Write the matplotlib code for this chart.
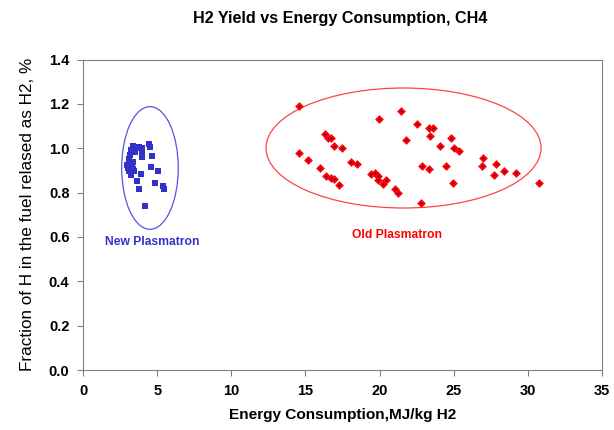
import matplotlib
matplotlib.use("Agg")
import matplotlib.pyplot as plt
from matplotlib.patches import Ellipse

plt.rcParams['font.family'] = ['Liberation Sans', 'DejaVu Sans']

# New Plasmatron (blue squares)
new_x = [3.38, 3.78, 3.96, 4.44, 4.50, 3.24, 3.60, 3.98, 3.98, 3.15, 4.64, 3.33,
         2.97, 3.29, 3.11, 3.42, 4.59, 5.04, 3.92, 3.60, 4.82, 5.38, 5.43, 3.78,
         4.19, 3.10, 3.20, 3.35, 3.50, 3.05]
new_y = [1.011, 1.005, 1.000, 1.019, 1.005, 0.992, 1.000, 0.977, 0.959, 0.969, 0.966, 0.939,
         0.924, 0.917, 0.897, 0.897, 0.914, 0.896, 0.882, 0.852, 0.842, 0.831, 0.815, 0.816,
         0.738, 0.950, 0.880, 0.905, 0.985, 0.910]

# Old Plasmatron (red diamonds)
old_x = [14.55, 14.55, 15.15, 15.95, 16.35, 16.50, 16.70, 16.95, 17.45, 16.40, 16.75, 16.90,
         17.25, 18.05, 18.45, 19.45, 19.70, 19.88, 19.92, 20.44, 20.26, 19.97, 21.05, 21.25,
         21.43, 21.81, 22.53, 22.80, 22.85, 23.35, 23.34, 23.63, 23.43, 24.09, 24.49, 24.82,
         25.03, 25.35, 24.98, 26.99, 26.90, 27.85, 27.75, 28.43, 29.24, 30.75]
old_y = [1.190, 0.980, 0.945, 0.910, 1.065, 1.045, 1.045, 1.010, 1.000, 0.875, 0.865, 0.860,
         0.835, 0.940, 0.930, 0.884, 0.888, 0.877, 0.856, 0.856, 0.840, 1.130, 0.815, 0.800,
         1.169, 1.036, 1.109, 0.753, 0.922, 0.905, 1.091, 1.091, 1.056, 1.011, 0.922, 1.045,
         1.000, 0.986, 0.845, 0.957, 0.918, 0.927, 0.879, 0.897, 0.887, 0.842]

xticks = [0, 5, 10, 15, 20, 25, 30, 35]
yticks = [0.0, 0.2, 0.4, 0.6, 0.8, 1.0, 1.2, 1.4]

fig = plt.figure(figsize=(6.14, 4.30), dpi=100)
ax = fig.add_axes([0.1357, 0.1395, 0.8443, 0.7221])

ax.scatter(new_x, new_y, marker='s', s=17, color='#3232c8', linewidths=0, zorder=3)
ax.scatter(old_x, old_y, marker='D', s=20, color='#ff0000', linewidths=0, zorder=3)
ax.scatter(old_x, old_y, marker='o', s=1.5, color='#000080', linewidths=0, zorder=4)

ax.add_patch(Ellipse((4.5, 0.911), 3.82, 0.553, fill=False, edgecolor='#5555dd', lw=0.9))
ax.add_patch(Ellipse((21.62, 1.001), 18.57, 0.541, fill=False, edgecolor='#ff4444', lw=0.9))

ax.text(4.64, 0.577, 'New Plasmatron', color='#3232c8', fontsize=8.7, fontweight='bold',
        ha='center', va='center')
ax.text(21.18, 0.609, 'Old Plasmatron', color='#ff0000', fontsize=8.7, fontweight='bold',
        ha='center', va='center')

ax.set_xlim(0, 35)
ax.set_ylim(0, 1.4)
ax.set_xticks(xticks)
ax.set_xticklabels([str(t) for t in xticks])
ax.set_yticks(yticks)
ax.set_yticklabels([f'{t:.1f}' for t in yticks])
for lbl in ax.get_xticklabels() + ax.get_yticklabels():
    lbl.set_fontweight('bold')
    lbl.set_fontsize(10.5)
ax.tick_params(direction='out', length=4, width=0.8, color='#808080', pad=6)
for sp in ax.spines.values():
    sp.set_color('#808080')
    sp.set_linewidth(0.8)

ax.set_xlabel('Energy Consumption,MJ/kg H2', fontsize=11.1, fontweight='bold', labelpad=7)
ax.set_ylabel('Fraction of H in the fuel relased as H2, %', fontsize=12.3, labelpad=10)
fig.text(0.554, 0.957, 'H2 Yield vs Energy Consumption, CH4', fontsize=11.6,
         fontweight='bold', ha='center', va='center')

fig.savefig('out.png', dpi=100)
